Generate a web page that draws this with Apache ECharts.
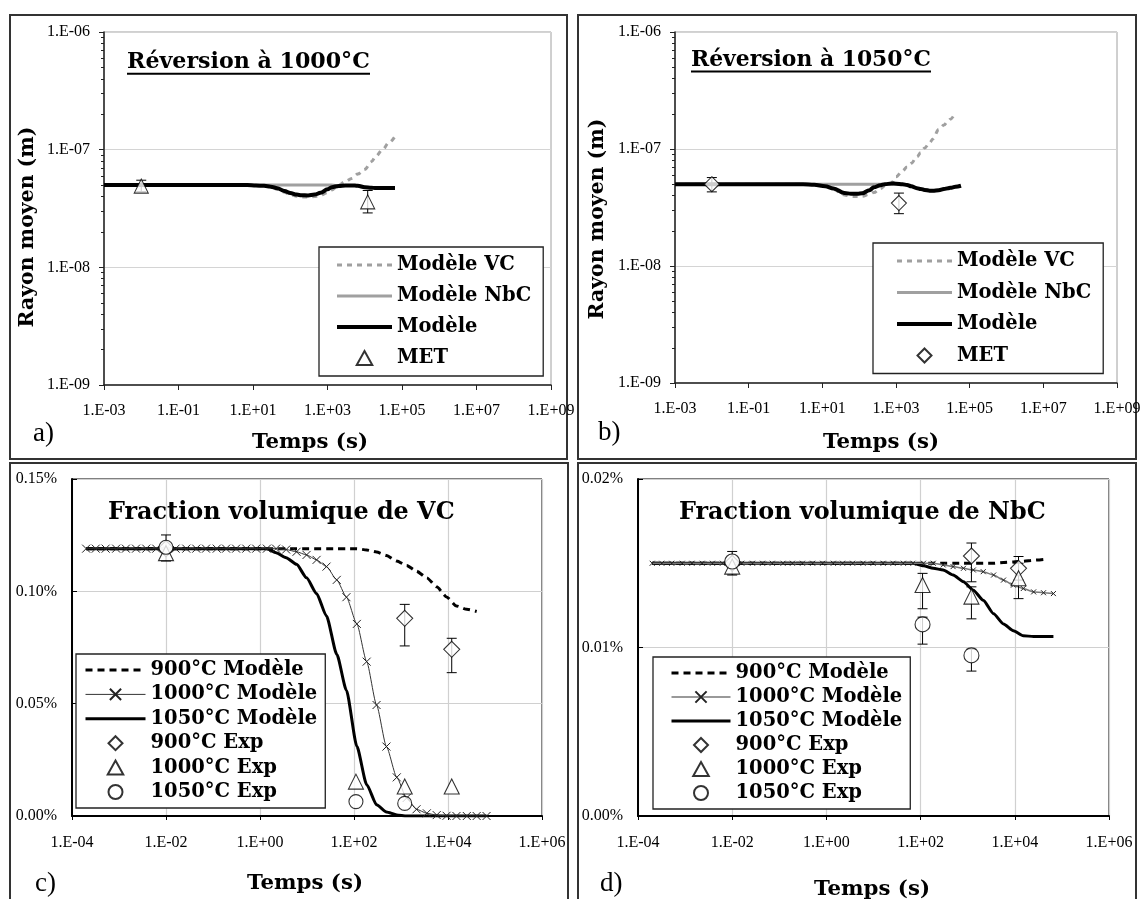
<!DOCTYPE html>
<html><head><meta charset="utf-8">
<script src="https://cdn.jsdelivr.net/npm/echarts@6/dist/echarts.min.js"></script>
<style>html,body{margin:0;padding:0;background:#fff}#c{width:1142px;height:899px}</style>
</head><body><div id="c"></div>
<script>
// ---------- Panel a : Réversion à 1000°C (rayon moyen, m) ----------
const tA = [0.001, 0.01, 0.1, 1, 7, 12, 20, 30, 45, 70, 100, 150, 200, 300, 450, 650, 1000, 1300, 2000, 3000, 4500, 6500, 10000, 15000, 20000, 30000, 45000, 65000];
const rA_model = [5.0e-8, 5.0e-8, 5.0e-8, 5.0e-8, 5.0e-8, 4.95e-8, 4.93e-8, 4.85e-8, 4.7e-8, 4.45e-8, 4.28e-8, 4.15e-8, 4.1e-8, 4.08e-8, 4.15e-8, 4.3e-8, 4.6e-8, 4.8e-8, 4.92e-8, 4.97e-8, 4.97e-8, 4.93e-8, 4.8e-8, 4.75e-8, 4.72e-8, 4.72e-8, 4.72e-8, 4.72e-8];
const rA_NbC = [5.0e-8, 5.0e-8, 5.0e-8, 5.0e-8, 5.0e-8, 5.0e-8, 5.0e-8, 5.0e-8, 5.0e-8, 5.0e-8, 5.0e-8, 5.0e-8, 5.0e-8, 5.0e-8, 5.0e-8, 5.0e-8, 5.0e-8, 5.0e-8, 4.92e-8, 4.97e-8, 4.97e-8, 4.93e-8, 4.8e-8, 4.75e-8, 4.72e-8, 4.72e-8, 4.72e-8, 4.72e-8];
const rA_VC = [5.0e-8, 5.0e-8, 5.0e-8, 5.0e-8, 5.0e-8, 4.95e-8, 4.9e-8, 4.8e-8, 4.6e-8, 4.35e-8, 4.15e-8, 4.02e-8, 3.97e-8, 3.95e-8, 4.0e-8, 4.1e-8, 4.3e-8, 4.55e-8, 5.0e-8, 5.35e-8, 5.7e-8, 6.2e-8, 6.8e-8, 7.9e-8, 8.8e-8, 1.0e-7, 1.15e-7, 1.3e-7];
const metA_t = [0.01, 12000];
const metA_r = [4.9e-8, 3.6e-8];
const metA_lo = [4.4e-8, 2.9e-8];
const metA_hi = [5.5e-8, 4.5e-8];

// ---------- Panel b : Réversion à 1050°C ----------
const tB = [0.001, 0.01, 0.1, 1, 3, 6, 12, 20, 40, 60, 90, 120, 190, 250, 380, 500, 750, 1000, 1500, 2000, 2600, 3700, 4700, 6000, 8200, 10000, 14500, 20000, 26000, 30000, 41000, 58000];
const rB_model = [5e-8, 5e-8, 5e-8, 5e-8, 5e-8, 4.95e-8, 4.8e-8, 4.6e-8, 4.2e-8, 4.15e-8, 4.15e-8, 4.18e-8, 4.45e-8, 4.7e-8, 4.9e-8, 5.0e-8, 5.07e-8, 5.05e-8, 5.0e-8, 4.93e-8, 4.8e-8, 4.63e-8, 4.55e-8, 4.47e-8, 4.4e-8, 4.4e-8, 4.45e-8, 4.55e-8, 4.62e-8, 4.66e-8, 4.75e-8, 4.85e-8];
const rB_NbC = [5e-8, 5e-8, 5e-8, 5e-8, 5e-8, 5e-8, 5e-8, 5e-8, 5e-8, 5e-8, 5e-8, 5e-8, 5e-8, 5e-8, 5e-8, 5e-8, 5e-8, 5.05e-8, 5.0e-8, 4.93e-8, 4.8e-8, 4.63e-8, 4.55e-8, 4.47e-8, 4.4e-8, 4.4e-8, 4.45e-8, 4.55e-8, 4.62e-8, 4.66e-8, 4.75e-8, 4.85e-8];
const rB_VC = [5e-8, 5e-8, 5e-8, 5e-8, 5e-8, 4.95e-8, 4.8e-8, 4.5e-8, 4.05e-8, 3.93e-8, 3.92e-8, 3.95e-8, 4.1e-8, 4.25e-8, 4.6e-8, 4.85e-8, 5.1e-8, 5.8e-8, 6.5e-8, 7.0e-8, 7.55e-8, 8.6e-8, 9.3e-8, 1.02e-7, 1.13e-7, 1.22e-7, 1.47e-7, 1.6e-7, 1.74e-7, 1.8e-7, 2.04e-7, null];
const metB_t = [0.01, 1200];
const metB_r = [5.0e-8, 3.45e-8];
const metB_lo = [4.3e-8, 2.8e-8];
const metB_hi = [5.7e-8, 4.2e-8];

// ---------- Panels c & d : model time grid (s) ----------
const tM = [2.0e-4, 3.2e-4, 5.2e-4, 8.7e-4, 1.4e-3, 2.3e-3, 3.8e-3, 6.2e-3, 1.0e-2, 1.6e-2, 2.7e-2, 4.4e-2, 7.1e-2, 0.12, 0.19, 0.31, 0.51, 0.83, 1.4, 2.2, 3.6, 6.0, 9.8, 16, 26, 43, 69, 115, 186, 302, 490, 813, 1318, 2138, 3548, 5754, 9333, 15136, 25119, 40738, 66069];

// ---------- Panel c : fraction volumique de VC (%) ----------
const vc900 = [0.119, 0.119, 0.119, 0.119, 0.119, 0.119, 0.119, 0.119, 0.119, 0.119, 0.119, 0.119, 0.119, 0.119, 0.119, 0.119, 0.119, 0.119, 0.119, 0.119, 0.119, 0.119, 0.119, 0.119, 0.119, 0.119, 0.119, 0.1190, 0.1184, 0.1175, 0.1160, 0.1135, 0.1115, 0.1090, 0.1060, 0.1020, 0.0975, 0.0935, 0.0920, 0.0910, null];
const vc1000 = [0.119, 0.119, 0.119, 0.119, 0.119, 0.119, 0.119, 0.119, 0.119, 0.119, 0.119, 0.119, 0.119, 0.119, 0.119, 0.119, 0.119, 0.119, 0.119, 0.119, 0.1186, 0.1176, 0.1162, 0.1140, 0.1110, 0.1051, 0.0974, 0.0855, 0.0687, 0.0494, 0.0309, 0.0172, 0.0080, 0.0030, 0.0012, 0.0004, 0.0001, 0, 0, 0, 0];
const vc1050 = [0.119, 0.119, 0.119, 0.119, 0.119, 0.119, 0.119, 0.119, 0.119, 0.119, 0.119, 0.119, 0.119, 0.119, 0.119, 0.119, 0.119, 0.119, 0.119, 0.1172, 0.1150, 0.1120, 0.1060, 0.0990, 0.0890, 0.0720, 0.0560, 0.0310, 0.0140, 0.0050, 0.0018, 0.0005, 0, 0, 0, 0, 0, 0, 0, 0, 0];
const expVC_t = [0.01, 110, 1200, 12000];
const expVC900 = [0.119, null, 0.0880, 0.0742];
const expVC900_lo = [null, null, 0.0757, 0.0638];
const expVC900_hi = [null, null, 0.0942, 0.0791];
const expVC1000 = [0.117, 0.0153, 0.0131, 0.0131];
const expVC1050 = [0.1196, 0.0064, 0.0056, null];
const expVC1050_lo = [0.1135, null, null, null];
const expVC1050_hi = [0.1251, null, null, null];

// ---------- Panel d : fraction volumique de NbC (%) ----------
const nb900 = [0.015, 0.015, 0.015, 0.015, 0.015, 0.015, 0.015, 0.015, 0.015, 0.015, 0.015, 0.015, 0.015, 0.015, 0.015, 0.015, 0.015, 0.015, 0.015, 0.015, 0.015, 0.015, 0.015, 0.015, 0.015, 0.015, 0.015, 0.015, 0.015, 0.015, 0.015, 0.015, 0.015, 0.015, 0.015, 0.01505, 0.01508, 0.01512, 0.01518, 0.01523, null];
const nb1000 = [0.015, 0.015, 0.015, 0.015, 0.015, 0.015, 0.015, 0.015, 0.015, 0.015, 0.015, 0.015, 0.015, 0.015, 0.015, 0.015, 0.015, 0.015, 0.015, 0.015, 0.015, 0.015, 0.015, 0.015, 0.015, 0.015, 0.015, 0.015, 0.015, 0.0149, 0.0148, 0.0147, 0.0146, 0.0145, 0.0143, 0.0140, 0.0137, 0.0135, 0.0133, 0.01325, 0.0132];
const nb1050 = [0.015, 0.015, 0.015, 0.015, 0.015, 0.015, 0.015, 0.015, 0.015, 0.015, 0.015, 0.015, 0.015, 0.015, 0.015, 0.015, 0.015, 0.015, 0.015, 0.015, 0.015, 0.015, 0.015, 0.015, 0.015, 0.015, 0.015, 0.01485, 0.0147, 0.0146, 0.0143, 0.0139, 0.0134, 0.0128, 0.0120, 0.0114, 0.0110, 0.0107, 0.01065, 0.01065, 0.01065];
const expNb_t = [0.01, 110, 1200, 12000];
const expNb900 = [0.0150, null, 0.01543, 0.0147];
const expNb900_lo = [null, null, 0.0139, 0.0140];
const expNb900_hi = [null, null, 0.0162, 0.0154];
const expNb1000 = [0.0148, 0.01371, 0.01302, 0.01411];
const expNb1000_lo = [null, 0.0123, 0.0117, 0.0129];
const expNb1000_hi = [null, 0.0144, 0.0136, 0.0150];
const expNb1050 = [0.0151, 0.01137, 0.00953, null];
const expNb1050_lo = [0.0143, 0.0102, 0.0086, null];
const expNb1050_hi = [0.0157, 0.0118, 0.0099, null];

// ---------- texts ----------
const xTicksAB = ['1.E-03', '1.E-01', '1.E+01', '1.E+03', '1.E+05', '1.E+07', '1.E+09'];

// ---------- helpers ----------
const zip = (xs, ys) => xs.map((x, i) => [x, ys[i]]);
const pts = (xs, ys) => xs.map((x, i) => [x, ys[i]]).filter(p => p[1] != null);
const errs = (xs, lo, hi) => xs.map((x, i) => [x, lo[i], hi[i]]).filter(p => p[1] != null && p[2] != null);
function sciLabel(v) {
  const e = Math.round(Math.log10(v));
  const a = Math.abs(e);
  return '1.E' + (e < 0 ? '-' : '+') + (a < 10 ? '0' : '') + a;
}
const pctLabel = v => v.toFixed(2) + '%';
const ctx = document.createElement('canvas').getContext('2d');
function measure(text, font) { ctx.font = font; return ctx.measureText(text).width; }
function fit(text, family, weight, target) {
  return 100 * target / measure(text, weight + ' 100px "' + family + '"');
}
const BF = 'DejaVu Serif';
const TF = 'Liberation Serif';

function errRender(params, api) {
  const x = api.value(0), lo = api.value(1), hi = api.value(2);
  const a = api.coord([x, lo]), b = api.coord([x, hi]);
  const st = { stroke: '#000', lineWidth: 1 };
  const w = 5;
  return { type: 'group', children: [
    { type: 'line', shape: { x1: a[0], y1: a[1], x2: b[0], y2: b[1] }, style: st },
    { type: 'line', shape: { x1: a[0] - w, y1: a[1], x2: a[0] + w, y2: a[1] }, style: st },
    { type: 'line', shape: { x1: b[0] - w, y1: b[1], x2: b[0] + w, y2: b[1] }, style: st }
  ]};
}
const CROSS = 'path://M0,0L10,10M10,0L0,10';
const ICON = {
  triangle: 'path://M5,0L10,9L0,9Z',
  diamond: 'path://M5,0L10,5L5,10L0,5Z',
  circle: 'path://M10,5A5,5,0,1,1,0,5A5,5,0,1,1,10,5Z'
};

const tickFont = { fontFamily: TF, fontSize: 16, color: '#000' };

function xAB(gi) {
  return { gridIndex: gi, type: 'log', logBase: 10, min: 1e-3, max: 1e9, interval: 2,
    axisLine: { show: true, lineStyle: { color: '#222', width: 1.5 } },
    axisTick: { show: true, length: 5, lineStyle: { color: '#222' } },
    axisLabel: Object.assign({ margin: 18, formatter: v => { const s = sciLabel(v); return xTicksAB.indexOf(s) >= 0 ? s : ''; } }, tickFont),
    splitLine: { show: false }, minorTick: { show: false } };
}
function yAB(gi) {
  return { gridIndex: gi, type: 'log', logBase: 10, min: 1e-9, max: 1e-6,
    axisLine: { show: true, lineStyle: { color: '#222', width: 1.5 } },
    axisTick: { show: true, length: 5, lineStyle: { color: '#222' } },
    minorTick: { show: true, splitNumber: 9, length: 3, lineStyle: { color: '#222' } },
    axisLabel: Object.assign({ margin: 14, formatter: sciLabel }, tickFont),
    splitLine: { show: true, lineStyle: { color: '#d4d4d4', width: 1.2 } } };
}
function xCD(gi) {
  return { gridIndex: gi, type: 'log', logBase: 100, min: 1e-4, max: 1e6,
    axisLine: { show: true, lineStyle: { color: '#000', width: 2 } },
    axisTick: { show: true, length: 4, lineStyle: { color: '#000' } },
    axisLabel: Object.assign({ margin: 19, formatter: sciLabel }, tickFont),
    splitLine: { show: true, lineStyle: { color: '#d0d0d0', width: 1.2 } } };
}
function yCD(gi, max, step) {
  return { gridIndex: gi, type: 'value', min: 0, max: max, interval: step,
    axisLine: { show: true, lineStyle: { color: '#000', width: 2 } },
    axisTick: { show: true, inside: true, length: 5, lineStyle: { color: '#000' } },
    axisLabel: Object.assign({ margin: 15, formatter: pctLabel }, tickFont),
    splitLine: { show: true, lineStyle: { color: '#d0d0d0', width: 1.2 } } };
}

function lineS(name, xi, data, style, extra) {
  return Object.assign({ name: name, type: 'line', xAxisIndex: xi, yAxisIndex: xi, data: data,
    symbol: 'none', smooth: 0.35, smoothMonotone: 'x', lineStyle: style,
    itemStyle: { color: style.color }, emphasis: { disabled: true }, silent: true }, extra || {});
}
function scatS(name, xi, data, symbol, size) {
  return { name: name, type: 'scatter', xAxisIndex: xi, yAxisIndex: xi, data: data,
    symbol: symbol, symbolSize: size, z: 7, silent: true,
    itemStyle: { color: '#fff', borderColor: '#000', borderWidth: 1.1 } };
}
function errS(name, xi, data) {
  return { name: name, type: 'custom', xAxisIndex: xi, yAxisIndex: xi, data: data,
    renderItem: errRender, encode: { x: 0, y: [1, 2] }, z: 6, silent: true };
}

// legend entries: plain line (no symbol), line with its own symbol, or a marker icon
const L = (n, w) => ({ name: n, itemStyle: { opacity: 0 }, lineStyle: { width: w } });
const LS = (n, w) => ({ name: n, lineStyle: { width: w } });
const M = (n, s) => ({ name: n, icon: ICON[s] });

const legText = { fontFamily: BF, fontWeight: 'bold', fontSize: 19.5, color: '#000' };
function legend(items, left, top, pad, iw, gap) {
  return { data: items, formatter: n => n.slice(2), orient: 'vertical', left: left, top: top,
    padding: pad, itemWidth: iw, itemHeight: 14, itemGap: gap, selectedMode: false,
    symbolKeepAspect: true,
    backgroundColor: '#fff', borderColor: '#222', borderWidth: 1.3, borderRadius: 0,
    textStyle: legText };
}

// frames, titles, labels
const gfx = [];
function frame(x, y, w, h) {
  gfx.push({ type: 'rect', shape: { x: x, y: y, width: w, height: h }, style: { fill: 'none', stroke: '#333', lineWidth: 2 }, silent: true });
}
frame(10, 15, 557, 444); frame(578, 15, 558, 444); frame(10, 463, 558, 450); frame(578, 463, 558, 450);
function title(text, x, cy, w, underline) {
  const fs = fit(text, BF, 'bold', w);
  gfx.push({ type: 'text', x: x, y: cy, style: { text: text, fontFamily: BF, fontWeight: 'bold', fontSize: fs, fill: '#000', align: 'left', verticalAlign: 'middle' }, silent: true, z: 10 });
  if (underline) gfx.push({ type: 'rect', shape: { x: x, y: cy + fs * 0.48, width: w, height: 2 }, style: { fill: '#000' }, silent: true, z: 10 });
}
title('Réversion à 1000°C', 127, 62, 243, true);
title('Réversion à 1050°C', 691, 60, 240, true);
title('Fraction volumique de VC', 108, 513, 347, false);
title('Fraction volumique de NbC', 679, 513, 367, false);
function label(text, x, y, size, rot, family, weight, align) {
  gfx.push({ type: 'text', x: x, y: y, rotation: rot || 0, style: { text: text, fontFamily: family, fontWeight: weight, fontSize: size, fill: '#000', align: align || 'center', verticalAlign: 'middle' }, silent: true, z: 10 });
}
const nameSize = fit('Temps (s)', BF, 'bold', 116);
label('Temps (s)', 310, 442, nameSize, 0, BF, 'bold');
label('Temps (s)', 881, 442, nameSize, 0, BF, 'bold');
label('Temps (s)', 305, 883, nameSize, 0, BF, 'bold');
label('Temps (s)', 872, 889, nameSize, 0, BF, 'bold');
const rSize = fit('Rayon moyen (m)', BF, 'bold', 201);
label('Rayon moyen (m)', 28, 227, rSize, Math.PI / 2, BF, 'bold');
label('Rayon moyen (m)', 598, 219, rSize, Math.PI / 2, BF, 'bold');
label('a)', 33, 434, 27, 0, TF, 'normal', 'left');
label('b)', 598, 433, 27, 0, TF, 'normal', 'left');
label('c)', 35, 884, 27, 0, TF, 'normal', 'left');
label('d)', 600, 884, 27, 0, TF, 'normal', 'left');

const gridBase = { show: true, containLabel: false, outerBoundsMode: 'none', backgroundColor: 'transparent' };
const option = {
  animation: false,
  backgroundColor: '#fff',
  grid: [
    Object.assign({ left: 104, top: 32, width: 447, height: 353, borderColor: '#a0a0a0', borderWidth: 1 }, gridBase),
    Object.assign({ left: 675, top: 32, width: 442, height: 351, borderColor: '#a0a0a0', borderWidth: 1 }, gridBase),
    Object.assign({ left: 72, top: 479, width: 470, height: 337, borderColor: '#000', borderWidth: 1 }, gridBase),
    Object.assign({ left: 638, top: 479, width: 471, height: 337, borderColor: '#000', borderWidth: 1 }, gridBase)
  ],
  xAxis: [xAB(0), xAB(1), xCD(2), xCD(3)],
  yAxis: [yAB(0), yAB(1), yCD(2, 0.15, 0.05), yCD(3, 0.02, 0.01)],
  legend: [
    legend([L('a:Modèle VC', 3), L('a:Modèle NbC', 3), L('a:Modèle', 4), M('a:MET', 'triangle')], 319, 247, [8, 12, 8, 16], 55, 11),
    legend([L('b:Modèle VC', 3), L('b:Modèle NbC', 3), L('b:Modèle', 4), M('b:MET', 'diamond')], 873, 243, [8, 12, 8, 22], 55, 11.5),
    legend([L('c:900°C Modèle', 3), LS('c:1000°C Modèle', 1), L('c:1050°C Modèle', 3), M('c:900°C Exp', 'diamond'), M('c:1000°C Exp', 'triangle'), M('c:1050°C Exp', 'circle')], 76, 654, [6, 8, 6, 8], 60, 4.4),
    legend([L('d:900°C Modèle', 3), LS('d:1000°C Modèle', 1.5), L('d:1050°C Modèle', 3), M('d:900°C Exp', 'diamond'), M('d:1000°C Exp', 'triangle'), M('d:1050°C Exp', 'circle')], 653, 657, [6, 8, 6, 17], 59, 4)
  ],
  graphic: { elements: gfx },
  series: [
    // a
    lineS('a:Modèle VC', 0, zip(tA, rA_VC), { color: '#a0a0a0', width: 3, type: [5, 5] }, { z: 2 }),
    lineS('a:Modèle NbC', 0, zip(tA, rA_NbC), { color: '#a0a0a0', width: 3 }, { z: 3 }),
    lineS('a:Modèle', 0, zip(tA, rA_model), { color: '#000', width: 4 }, { z: 4 }),
    errS('a:err', 0, errs(metA_t, metA_lo, metA_hi)),
    scatS('a:MET', 0, pts(metA_t, metA_r), 'triangle', 14),
    // b
    lineS('b:Modèle VC', 1, zip(tB, rB_VC), { color: '#a0a0a0', width: 3, type: [5, 5] }, { z: 2 }),
    lineS('b:Modèle NbC', 1, zip(tB, rB_NbC), { color: '#a0a0a0', width: 3 }, { z: 3 }),
    lineS('b:Modèle', 1, zip(tB, rB_model), { color: '#000', width: 4 }, { z: 4 }),
    errS('b:err', 1, errs(metB_t, metB_lo, metB_hi)),
    scatS('b:MET', 1, pts(metB_t, metB_r), 'diamond', 15),
    // c
    lineS('c:900°C Modèle', 2, zip(tM, vc900), { color: '#000', width: 3, type: [7, 5] }, { z: 2, smooth: 0.2 }),
    lineS('c:1050°C Modèle', 2, zip(tM, vc1050), { color: '#000', width: 3 }, { z: 3, smooth: 0.2 }),
    lineS('c:1000°C Modèle', 2, zip(tM, vc1000), { color: '#333', width: 1 }, { z: 4, smooth: 0.2, symbol: CROSS, symbolSize: 8, showSymbol: true, itemStyle: { color: '#333', borderColor: '#222', borderWidth: 1 } }),
    errS('c:err900', 2, errs(expVC_t, expVC900_lo, expVC900_hi)),
    errS('c:err1050', 2, errs(expVC_t, expVC1050_lo, expVC1050_hi)),
    scatS('c:900°C Exp', 2, pts(expVC_t, expVC900), 'diamond', 16),
    scatS('c:1000°C Exp', 2, pts(expVC_t, expVC1000), 'triangle', 15),
    scatS('c:1050°C Exp', 2, pts(expVC_t, expVC1050), 'circle', 14),
    // d
    lineS('d:900°C Modèle', 3, zip(tM, nb900), { color: '#000', width: 3, type: [7, 5] }, { z: 2, smooth: 0.2 }),
    lineS('d:1050°C Modèle', 3, zip(tM, nb1050), { color: '#000', width: 3 }, { z: 3, smooth: 0.2 }),
    lineS('d:1000°C Modèle', 3, zip(tM, nb1000), { color: '#777', width: 1.5 }, { z: 4, smooth: 0.2, symbol: CROSS, symbolSize: 5, showSymbol: true, itemStyle: { color: '#222', borderColor: '#222', borderWidth: 1 } }),
    errS('d:err900', 3, errs(expNb_t, expNb900_lo, expNb900_hi)),
    errS('d:err1000', 3, errs(expNb_t, expNb1000_lo, expNb1000_hi)),
    errS('d:err1050', 3, errs(expNb_t, expNb1050_lo, expNb1050_hi)),
    scatS('d:900°C Exp', 3, pts(expNb_t, expNb900), 'diamond', 16),
    scatS('d:1000°C Exp', 3, pts(expNb_t, expNb1000), 'triangle', 15),
    scatS('d:1050°C Exp', 3, pts(expNb_t, expNb1050), 'circle', 15)
  ]
};
const chart = echarts.init(document.getElementById('c'), null, { renderer: 'canvas' });
chart.setOption(option);
</script>
</body></html>
